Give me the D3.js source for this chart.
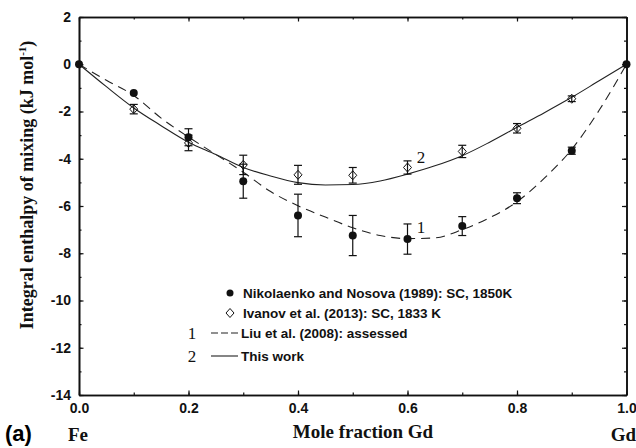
<!DOCTYPE html>
<html>
<head>
<meta charset="utf-8">
<script src="https://cdn.jsdelivr.net/npm/d3@7"></script>
<style>
  body { margin: 0; background: #fff; }
  .tick text { font-family: Arial, "Liberation Sans", sans-serif; font-weight: bold; font-size: 14px; fill: #111; }
  .legend { font-family: Arial, "Liberation Sans", sans-serif; font-weight: bold; font-size: 13.5px; fill: #111; }
  .serif { font-family: "Times New Roman", "Liberation Serif", serif; font-weight: bold; fill: #111; }
</style>
</head>
<body>
<div id="chart"></div>
<script>

// measured points (Nikolaenko and Nosova 1989)
var nikX = [0, 0.1, 0.2, 0.3, 0.4, 0.5, 0.6, 0.7, 0.8, 0.9, 1.0];
var nikY = [0, -1.22, -3.09, -4.95, -6.4, -7.25, -7.4, -6.85, -5.67, -3.66, 0];
var nikErr = [0, 0, 0.36, 0.72, 0.9, 0.85, 0.64, 0.4, 0.23, 0.15, 0];

// measured points (Ivanov et al. 2013)
var ivaX = [0.1, 0.2, 0.3, 0.4, 0.5, 0.6, 0.7, 0.8, 0.9];
var ivaY = [-1.9, -3.33, -4.26, -4.68, -4.7, -4.37, -3.69, -2.71, -1.46];
var ivaErr = [0.2, 0.33, 0.41, 0.4, 0.33, 0.28, 0.26, 0.2, 0.12];

// curves
var curveX = [0, 0.05, 0.1, 0.15, 0.2, 0.25, 0.3, 0.35, 0.4, 0.45, 0.5,
              0.55, 0.6, 0.65, 0.7, 0.75, 0.8, 0.85, 0.9, 0.95, 1.0];
var liuY = [0, -0.68, -1.32, -2.28, -3.08, -3.82, -4.57, -5.39, -5.99, -6.47, -6.92,
            -7.25, -7.38, -7.35, -7.0, -6.5, -5.82, -4.82, -3.6, -1.95, 0];
var workY = [0, -0.95, -1.85, -2.6, -3.3, -3.82, -4.37, -4.73, -5.01, -5.11, -5.09,
             -4.94, -4.65, -4.3, -3.87, -3.3, -2.67, -2.05, -1.4, -0.7, 0];

var xTicks = [0, 0.2, 0.4, 0.6, 0.8, 1.0];
var yTicks = [2, 0, -2, -4, -6, -8, -10, -12, -14];

var width = 636, height = 448;

var svg = d3.select("#chart")
            .append("svg")
            .attr("width", width)
            .attr("height", height);

var x = d3.scaleLinear().domain([0, 1]).range([79, 626.5]);
var y = d3.scaleLinear().domain([-14, 2]).range([395, 17]);

// axes, ticks pointing inward
var minorX = d3.range(0, 1.0001, 0.1);
var minorY = d3.range(-14, 2.0001, 1);

function drawAxis(axis, ticks, size, fmt, transform) {
  var g = svg.append("g")
     .attr("transform", transform)
     .call(axis.tickValues(ticks).tickSizeInner(size).tickSizeOuter(0).tickPadding(8).tickFormat(fmt));
  g.select(".domain").attr("stroke", "#111").attr("stroke-width", 1.6);
  g.selectAll(".tick line").attr("stroke", "#111").attr("stroke-width", 1.2);
  return g;
}

var fmtX = function(d) { return d3.format(".1f")(d); };
var fmtY = function(d) { return String(d); };
var none = function() { return ""; };

drawAxis(d3.axisBottom(x), minorX, -2.5, none, "translate(0," + y(-14) + ")");
drawAxis(d3.axisBottom(x), xTicks, -4.5, fmtX, "translate(0," + y(-14) + ")");
drawAxis(d3.axisTop(x), minorX, -2.5, none, "translate(0," + y(2) + ")");
drawAxis(d3.axisTop(x), xTicks, -4.5, none, "translate(0," + y(2) + ")");
drawAxis(d3.axisLeft(y), minorY, -2.5, none, "translate(" + x(0) + ",0)");
drawAxis(d3.axisLeft(y), yTicks, -4.5, fmtY, "translate(" + x(0) + ",0)");
drawAxis(d3.axisRight(y), minorY, -2.5, none, "translate(" + x(1) + ",0)");
drawAxis(d3.axisRight(y), yTicks, -4.5, none, "translate(" + x(1) + ",0)");

// model curves
var line = d3.line()
    .x(function(d) { return x(d[0]); })
    .y(function(d) { return y(d[1]); })
    .curve(d3.curveMonotoneX);

svg.append("path")
   .datum(d3.zip(curveX, liuY))
   .attr("d", line)
   .attr("fill", "none")
   .attr("stroke", "#222")
   .attr("stroke-width", 1.1)
   .attr("stroke-dasharray", "9,6");

svg.append("path")
   .datum(d3.zip(curveX, workY))
   .attr("d", line)
   .attr("fill", "none")
   .attr("stroke", "#222")
   .attr("stroke-width", 1.1);

// error bars
function errorBars(xs, ys, errs) {
  var g = svg.append("g").attr("stroke", "#111").attr("stroke-width", 1.2);
  xs.forEach(function(xv, i) {
    if (!errs[i]) return;
    var cx = x(xv), y1 = y(ys[i] + errs[i]), y2 = y(ys[i] - errs[i]);
    g.append("line").attr("x1", cx).attr("x2", cx).attr("y1", y1).attr("y2", y2);
    g.append("line").attr("x1", cx - 4).attr("x2", cx + 4).attr("y1", y1).attr("y2", y1);
    g.append("line").attr("x1", cx - 4).attr("x2", cx + 4).attr("y1", y2).attr("y2", y2);
  });
}
errorBars(ivaX, ivaY, ivaErr);
errorBars(nikX, nikY, nikErr);

// open diamond, about as wide as it is tall
var diamond = "M0,-4.5L4,0L0,4.5L-4,0Z";

svg.append("g")
   .selectAll("path")
   .data(d3.zip(ivaX, ivaY))
   .enter().append("path")
   .attr("d", diamond)
   .attr("transform", function(d) { return "translate(" + x(d[0]) + "," + y(d[1]) + ")"; })
   .attr("fill", "none")
   .attr("stroke", "#111")
   .attr("stroke-width", 1);

svg.append("g")
   .selectAll("circle")
   .data(d3.zip(nikX, nikY))
   .enter().append("circle")
   .attr("cx", function(d) { return x(d[0]); })
   .attr("cy", function(d) { return y(d[1]); })
   .attr("r", 4)
   .attr("fill", "#111");

// curve numbers
svg.append("text").attr("class", "serif").style("font-weight", "normal").style("font-size", "17px")
   .attr("x", 421).attr("y", 233).attr("text-anchor", "middle").text("1");
svg.append("text").attr("class", "serif").style("font-weight", "normal").style("font-size", "17px")
   .attr("x", 421).attr("y", 163).attr("text-anchor", "middle").text("2");

// legend
var lg = svg.append("g");
lg.append("circle").attr("cx", 230).attr("cy", 293).attr("r", 3.5).attr("fill", "#111");
lg.append("text").attr("class", "legend").attr("x", 243).attr("y", 298)
  .text("Nikolaenko and Nosova (1989): SC, 1850K");
lg.append("path").attr("d", diamond).attr("transform", "translate(230,313)")
  .attr("fill", "none").attr("stroke", "#111").attr("stroke-width", 1);
lg.append("text").attr("class", "legend").attr("x", 243).attr("y", 318)
  .text("Ivanov et al. (2013): SC, 1833 K");
lg.append("text").attr("class", "serif").style("font-weight", "normal").style("font-size", "17px")
  .attr("x", 192).attr("y", 339).attr("text-anchor", "middle").text("1");
lg.append("line").attr("x1", 211).attr("x2", 238).attr("y1", 333).attr("y2", 333)
  .attr("stroke", "#222").attr("stroke-width", 1.1).attr("stroke-dasharray", "7,3");
lg.append("text").attr("class", "legend").attr("x", 241).attr("y", 338)
  .text("Liu et al. (2008): assessed");
lg.append("text").attr("class", "serif").style("font-weight", "normal").style("font-size", "17px")
  .attr("x", 192).attr("y", 362).attr("text-anchor", "middle").text("2");
lg.append("line").attr("x1", 211).attr("x2", 238).attr("y1", 356).attr("y2", 356)
  .attr("stroke", "#222").attr("stroke-width", 1.1);
lg.append("text").attr("class", "legend").attr("x", 241).attr("y", 361)
  .text("This work");

// axis titles
svg.append("text").attr("class", "serif").style("font-size", "19px")
   .attr("x", 68).attr("y", 441).text("Fe");
svg.append("text").attr("class", "serif").style("font-size", "19px")
   .attr("x", 363).attr("y", 438).attr("text-anchor", "middle").text("Mole fraction Gd");
svg.append("text").attr("class", "serif").style("font-size", "19px")
   .attr("x", 636).attr("y", 441).attr("text-anchor", "end").text("Gd");

var yt = svg.append("text").attr("class", "serif").style("font-size", "18px")
   .attr("transform", "translate(33,185) rotate(-90)")
   .attr("text-anchor", "middle");
yt.append("tspan").text("Integral enthalpy of mixing (kJ mol");
yt.append("tspan").attr("dy", -7).style("font-size", "11px").text("-1");
yt.append("tspan").attr("dy", 7).text(")");

svg.append("text")
   .attr("x", 5).attr("y", 441)
   .style("font-family", "Arial, 'Liberation Sans', sans-serif")
   .style("font-weight", "bold").style("font-size", "22px")
   .text("(a)");

</script>
</body>
</html>
